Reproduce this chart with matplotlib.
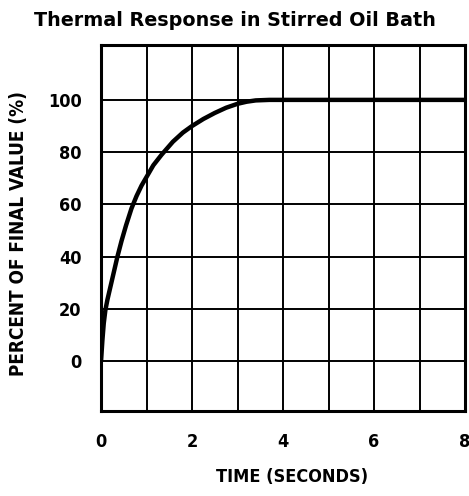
import matplotlib
matplotlib.use('Agg')
import matplotlib.pyplot as plt

# curve: time (s) vs percent of final value
time_s = [0, 0.03, 0.06, 0.095, 0.14, 0.2, 0.28, 0.36, 0.45, 0.55, 0.67, 0.78, 0.89, 1.0,
          1.15, 1.33, 1.58, 1.8, 2.0, 2.25, 2.5, 2.75, 3.0, 3.2, 3.4, 3.7, 8.0]
percent = [0, 8, 14.5, 19.5, 23.5, 28, 34, 40, 46, 52, 58.5, 63.2, 67.2, 70.5,
           75, 79, 84, 87.5, 90, 92.7, 95, 97, 98.5, 99.3, 99.8, 100, 100]

x_ticks = [0, 2, 4, 6, 8]
y_ticks = [0, 20, 40, 60, 80, 100]

label_font = dict(family='DejaVu Sans', stretch='condensed', weight='bold', size=13)

fig = plt.figure(figsize=(4.69, 4.96), dpi=100)
ax = fig.add_axes([0.2154, 0.1714, 0.9915 - 0.2154, 0.9093 - 0.1714])

ax.plot(time_s, percent, color='black', linewidth=3.2, solid_capstyle='butt',
        solid_joinstyle='round', zorder=3)

ax.set_xlim(0, 8)
ax.set_ylim(-19, 121)
ax.set_xticks(range(0, 9), minor=True)
ax.set_xticks(x_ticks)
ax.set_yticks(y_ticks)
ax.grid(True, which='both', color='black', linewidth=1.4)
ax.tick_params(which='both', length=0)
ax.tick_params(axis='y', pad=14)
ax.tick_params(axis='x', pad=16)

for lab in ax.get_xticklabels() + ax.get_yticklabels():
    lab.set_fontproperties(label_font)

for sp in ax.spines.values():
    sp.set_linewidth(2.2)

ax.set_xlabel('TIME (SECONDS)', fontdict=label_font)
ax.xaxis.set_label_coords(0.525, -0.156)
ax.set_ylabel('PERCENT OF FINAL VALUE (%)', fontdict=dict(label_font, size=13.6))
ax.yaxis.set_label_coords(-0.20, 0.486)

fig.text(0.5, 1 - 20 / 496, 'Thermal Response in Stirred Oil Bath', ha='center', va='center',
         fontfamily='DejaVu Sans', fontweight='bold', fontsize=13.8)

fig.savefig('out.png', dpi=100)
